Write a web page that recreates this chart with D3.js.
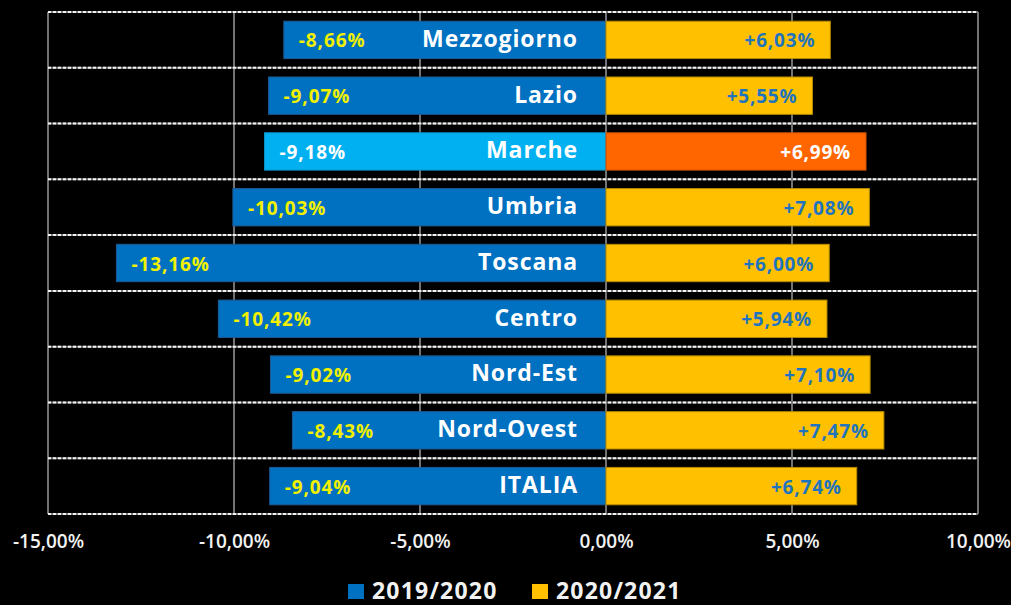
<!DOCTYPE html>
<html lang="it">
<head>
<meta charset="UTF-8">
<title>Variazione PIL per area</title>
<style>
  body { margin: 0; background: #000; }
  svg { display: block; background: #000; font-family: "Open Sans", "Lato", sans-serif; }
</style>
</head>
<body>
<div id="container"><svg width="1011" height="605"></svg></div>
<script src="https://cdn.jsdelivr.net/npm/d3@7"></script>
<script>
// data
const categories = ['Mezzogiorno', 'Lazio', 'Marche', 'Umbria', 'Toscana', 'Centro', 'Nord-Est', 'Nord-Ovest', 'ITALIA'];
const values2019 = [-8.66, -9.07, -9.18, -10.03, -13.16, -10.42, -9.02, -8.43, -9.04];
const values2020 = [6.03, 5.55, 6.99, 7.08, 6.00, 5.94, 7.10, 7.47, 6.74];
const seriesNames = ['2019/2020', '2020/2021'];
const xTicks = [-15, -10, -5, 0, 5, 10];
const highlight = 'Marche';

const svg = d3.select('svg');
const it = d3.formatLocale({ decimal: ',', thousands: '.', grouping: [3], currency: ['', '€'], minus: '-' });
const fmtTick = d => it.format('.2f')(d) + '%';
const fmtVal = d => it.format('+.2f')(d) + '%';

const plotLeft = 48, plotRight = 978, plotTop = 12, plotBottom = 514;

const x = d3.scaleLinear().domain([-15, 10]).range([plotLeft, plotRight]);
const y = d3.scaleBand().domain(categories).range([plotTop, plotBottom]).paddingInner(0.33).paddingOuter(0.165);
const rowH = (plotBottom - plotTop) / categories.length;

const rows = categories.map((c, i) => ({ name: c, a: values2019[i], b: values2020[i] }));

// vertical gridlines
svg.append('g')
  .selectAll('line')
  .data(xTicks)
  .join('line')
  .attr('x1', d => x(d)).attr('x2', d => x(d))
  .attr('y1', plotTop).attr('y2', plotBottom)
  .attr('stroke', '#9a9a9a')
  .attr('stroke-width', 1.5);

// row separators (dashed)
const seps = d3.range(categories.length + 1).map(i => plotTop + i * rowH);
const sepG = svg.append('g');
sepG.selectAll('line.base')
  .data(seps)
  .join('line')
  .attr('class', 'base')
  .attr('x1', plotLeft).attr('x2', plotRight)
  .attr('y1', d => d).attr('y2', d => d)
  .attr('stroke', '#7f7f7f')
  .attr('stroke-width', 2);
sepG.selectAll('line.dash')
  .data(seps)
  .join('line')
  .attr('class', 'dash')
  .attr('x1', plotLeft).attr('x2', plotRight)
  .attr('y1', d => d).attr('y2', d => d)
  .attr('stroke', '#f2f2f2')
  .attr('stroke-width', 2)
  .attr('stroke-dasharray', '3,2');

// bars
const bars = svg.append('g');
bars.selectAll('rect.neg')
  .data(rows)
  .join('rect')
  .attr('class', 'neg')
  .attr('x', d => x(d.a))
  .attr('y', d => y(d.name))
  .attr('width', d => x(0) - x(d.a))
  .attr('height', y.bandwidth())
  .attr('fill', d => d.name === highlight ? '#00b0f0' : '#0070c0')
  .attr('stroke', d => d.name === highlight ? '#0a8fc4' : '#1d5a92')
  .attr('stroke-width', 1);

bars.selectAll('rect.pos')
  .data(rows)
  .join('rect')
  .attr('class', 'pos')
  .attr('x', x(0))
  .attr('y', d => y(d.name))
  .attr('width', d => x(d.b) - x(0))
  .attr('height', y.bandwidth())
  .attr('fill', d => d.name === highlight ? '#ff6600' : '#ffc000')
  .attr('stroke', d => d.name === highlight ? '#c55000' : '#b58a00')
  .attr('stroke-width', 1);

// category labels
svg.append('g')
  .selectAll('text')
  .data(rows)
  .join('text')
  .attr('x', x(0) - 28)
  .attr('y', d => y(d.name) + y.bandwidth() / 2)
  .attr('dy', '0.3em')
  .attr('text-anchor', 'end')
  .attr('fill', '#ffffff')
  .attr('font-size', 23)
  .attr('font-weight', 'bold')
  .attr('letter-spacing', 0.9)
  .text(d => d.name);

// value labels
svg.append('g')
  .selectAll('text')
  .data(rows)
  .join('text')
  .attr('x', d => x(d.a) + 15)
  .attr('y', d => y(d.name) + y.bandwidth() / 2)
  .attr('dy', '0.4em')
  .attr('fill', d => d.name === highlight ? '#ffffff' : '#f0f000')
  .attr('font-size', 19)
  .attr('font-weight', 'bold')
  .attr('letter-spacing', 0.9)
  .text(d => fmtVal(d.a));

svg.append('g')
  .selectAll('text')
  .data(rows)
  .join('text')
  .attr('x', d => x(d.b) - 15)
  .attr('y', d => y(d.name) + y.bandwidth() / 2)
  .attr('dy', '0.4em')
  .attr('text-anchor', 'end')
  .attr('fill', d => d.name === highlight ? '#ffffff' : '#1f74bd')
  .attr('font-size', 19)
  .attr('font-weight', 'bold')
  .attr('letter-spacing', 0.8)
  .text(d => fmtVal(d.b));

// x axis labels
const xAxis = svg.append('g')
  .attr('transform', `translate(0, ${plotBottom + 20})`)
  .call(d3.axisBottom(x).tickValues(xTicks).tickFormat(fmtTick).tickSize(0).tickPadding(0));
xAxis.select('.domain').remove();
xAxis.selectAll('text')
  .attr('fill', '#f2f2f2')
  .attr('font-size', 19)
  .attr('font-weight', 600)
  .attr('font-family', '"Open Sans", sans-serif');

// legend
const legendColors = ['#0070c0', '#ffc000'];
const legendX = [348, 532];
const legend = svg.append('g')
  .selectAll('g')
  .data(seriesNames)
  .join('g')
  .attr('transform', (d, i) => `translate(${legendX[i]}, 584)`);
legend.append('rect')
  .attr('width', 16).attr('height', 15)
  .attr('fill', (d, i) => legendColors[i]);
legend.append('text')
  .attr('x', 24)
  .attr('y', 15)
  .attr('fill', '#f2f2f2')
  .attr('font-size', 23)
  .attr('font-weight', 'bold')
  .attr('letter-spacing', 1.2)
  .text(d => d);
</script>
</body>
</html>
